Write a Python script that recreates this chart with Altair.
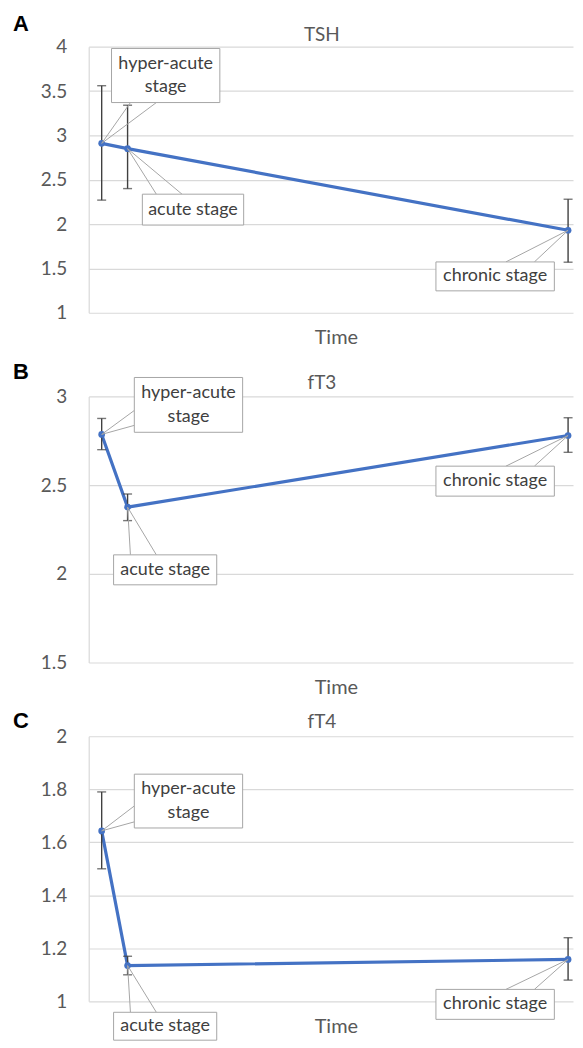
import altair as alt
import pandas as pd

# ---- data ----
time = [0, 1, 18]                      # relative position on the (unlabelled) time axis
stage = ["hyper-acute\nstage", "acute stage", "chronic stage"]

tsh_mean = [2.91, 2.85, 1.93]
tsh_lo = [2.27, 2.40, 1.57]
tsh_hi = [3.56, 3.34, 2.28]

ft3_mean = [2.786, 2.376, 2.78]
ft3_lo = [2.70, 2.30, 2.685]
ft3_hi = [2.876, 2.45, 2.88]

ft4_mean = [1.643, 1.135, 1.158]
ft4_lo = [1.50, 1.10, 1.08]
ft4_hi = [1.79, 1.17, 1.24]

# ---- callout placement (data units): box x1,x2,y1,y2 and two leader anchors ----
callouts_tsh = [
    dict(x1=0.38, x2=4.56, y1=3.98, y2=3.37, ax1=1.11, ay1=3.37, ax2=2.11, ay2=3.37),
    dict(x1=1.57, x2=5.48, y1=2.337, y2=1.989, ax1=2.11, ay1=2.337, ax2=3.10, ay2=2.337),
    dict(x1=12.9, x2=17.47, y1=1.573, y2=1.247, ax1=15.6, ay1=1.573, ax2=16.7, ay2=1.573),
]
callouts_ft3 = [
    dict(x1=1.26, x2=5.44, y1=3.107, y2=2.798, ax1=1.26, ay1=2.921, ax2=1.26, ay2=2.837),
    dict(x1=0.46, x2=4.44, y1=2.107, y2=1.938, ax1=1.11, ay1=2.107, ax2=2.11, ay2=2.107),
    dict(x1=12.9, x2=17.47, y1=2.607, y2=2.438, ax1=15.6, ay1=2.607, ax2=16.7, ay2=2.607),
]
callouts_ft4 = [
    dict(x1=1.26, x2=5.44, y1=1.857, y2=1.654, ax1=1.26, ay1=1.737, ax2=1.26, ay2=1.677),
    dict(x1=0.46, x2=4.44, y1=0.9586, y2=0.8534, ax1=1.11, ay1=0.9586, ax2=2.11, ay2=0.9586),
    dict(x1=12.9, x2=17.47, y1=1.045, y2=0.932, ax1=15.6, ay1=1.045, ax2=16.7, ay2=1.045),
]

FONT = "Lato"
AXC = "#595959"
BLUE = "#4472C4"
ERRC = "#404040"
GRID = "#D9D9D9"
BOXC = "#A6A6A6"
W = 486
XDOM = [-0.5, 18.19]


def panel(letter, title, mean, lo, hi, ydom, yticks, callouts, H, letter_dy, title_dy):
    df = pd.DataFrame({"time": time, "stage": stage, "mean": mean, "lo": lo, "hi": hi})
    xs = alt.Scale(domain=XDOM, nice=False, zero=False)
    ys = alt.Scale(domain=ydom, nice=False, zero=False)
    XAX = alt.Axis(title="Time", labels=False, ticks=False, domain=False, grid=False,
                   titleFont=FONT, titleFontSize=20, titleFontWeight="normal",
                   titleColor=AXC, titlePadding=15, titleX=248)
    YAX = alt.Axis(title=None, values=yticks, format="~g", tickSize=0, labelPadding=22,
                   labelFont=FONT, labelFontSize=19, labelColor=AXC,
                   gridColor=GRID, gridWidth=1.2, domainColor=GRID, domainWidth=1.2)

    def X(f):
        return alt.X(f, scale=xs, axis=XAX, title="Time")

    def Y(f):
        return alt.Y(f, scale=ys, axis=YAX, title=None)

    base = alt.Chart(df)
    line = base.mark_line(color=BLUE, strokeWidth=3.2).encode(x=X("time:Q"), y=Y("mean:Q"))
    err = base.mark_rule(color=ERRC, strokeWidth=1.4).encode(
        x=X("time:Q"), y=Y("lo:Q"), y2="hi:Q")
    cap_hi = base.mark_tick(orient="horizontal", size=9, thickness=1.4, color=ERRC).encode(
        x=X("time:Q"), y=Y("hi:Q"))
    cap_lo = base.mark_tick(orient="horizontal", size=9, thickness=1.4, color=ERRC).encode(
        x=X("time:Q"), y=Y("lo:Q"))
    pts = base.mark_circle(size=45, color=BLUE, opacity=1).encode(x=X("time:Q"), y=Y("mean:Q"))

    rows, leads = [], []
    for i, c in enumerate(callouts):
        rows.append(dict(x1=c["x1"], x2=c["x2"], y1=c["y1"], y2=c["y2"],
                         tx=(c["x1"] + c["x2"]) / 2, ty=(c["y1"] + c["y2"]) / 2,
                         label=stage[i], multi="\n" in stage[i]))
        leads.append(dict(px=time[i], py=mean[i], ax=c["ax1"], ay=c["ay1"]))
        leads.append(dict(px=time[i], py=mean[i], ax=c["ax2"], ay=c["ay2"]))
    cdf = pd.DataFrame(rows)
    ldf = pd.DataFrame(leads)

    leaders = alt.Chart(ldf).mark_rule(color=BOXC, strokeWidth=1).encode(
        x=X("px:Q"), y=Y("py:Q"), x2="ax:Q", y2="ay:Q")
    boxes = alt.Chart(cdf).mark_rect(fill="white", stroke=BOXC, strokeWidth=1).encode(
        x=X("x1:Q"), x2="x2:Q", y=Y("y1:Q"), y2="y2:Q")
    tstyle = dict(font=FONT, fontSize=18, color=ERRC, lineBreak="\n", lineHeight=24,
                  baseline="middle", align="center")
    texts1 = alt.Chart(cdf).transform_filter("!datum.multi").mark_text(**tstyle).encode(
        x=X("tx:Q"), y=Y("ty:Q"), text="label:N")
    texts2 = alt.Chart(cdf).transform_filter("datum.multi").mark_text(dy=-12, **tstyle).encode(
        x=X("tx:Q"), y=Y("ty:Q"), text="label:N")

    let = alt.Chart(pd.DataFrame({"t": [letter]})).mark_text(
        font="Liberation Sans", fontSize=22, fontWeight="bold", color="black",
        align="left", baseline="alphabetic").encode(
        x=alt.value(-76), y=alt.value(-letter_dy), text="t:N")
    ttl = alt.Chart(pd.DataFrame({"t": [title]})).mark_text(
        font=FONT, fontSize=19, color=AXC, align="center", baseline="alphabetic").encode(
        x=alt.value(234), y=alt.value(-title_dy), text="t:N")

    return alt.layer(line, err, cap_hi, cap_lo, pts, leaders, boxes, texts1, texts2,
                     let, ttl).properties(width=W, height=H)


pa = panel("A", "TSH", tsh_mean, tsh_lo, tsh_hi, [1, 4], [1, 1.5, 2, 2.5, 3, 3.5, 4],
           callouts_tsh, 267, 16, 6)
pb = panel("B", "fT3", ft3_mean, ft3_lo, ft3_hi, [1.5, 3], [1.5, 2, 2.5, 3],
           callouts_ft3, 267, 18, 7)
pc = panel("C", "fT4", ft4_mean, ft4_lo, ft4_hi, [1, 2], [1, 1.2, 1.4, 1.6, 1.8, 2],
           callouts_ft4, 266, 8, 8)

chart = alt.vconcat(pa, alt.vconcat(pb, pc, spacing=74, bounds="flush"),
                    spacing=84, bounds="flush").properties(
    padding={"left": 5, "top": 3, "right": 0, "bottom": 0}
).configure_view(stroke=None)

chart.save("out.html", embed_options={"renderer": "svg", "actions": False})
